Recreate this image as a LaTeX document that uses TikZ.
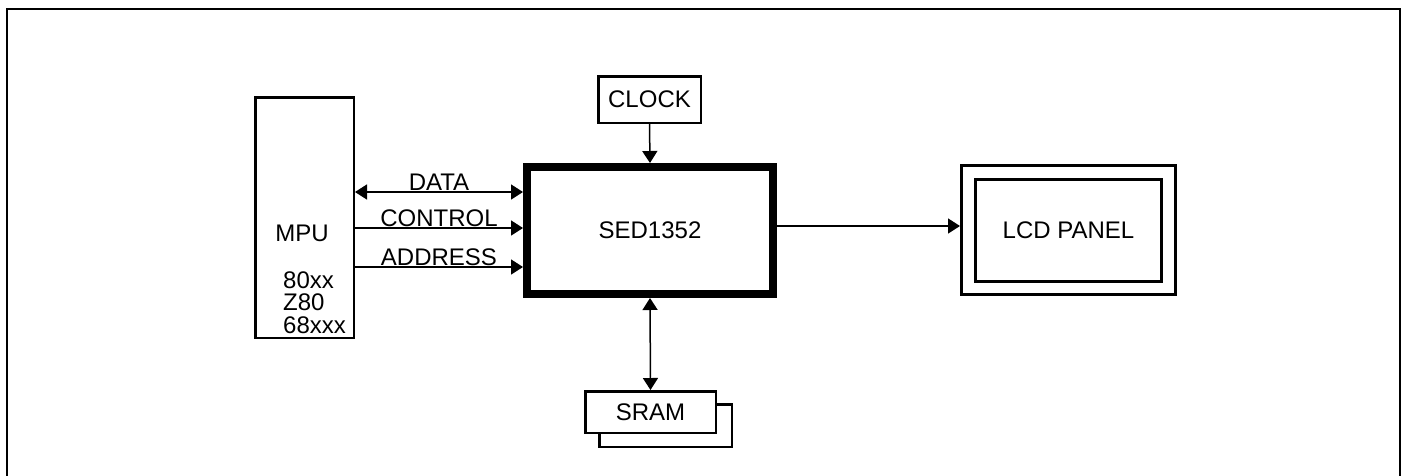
\documentclass[tikz,border=0pt]{standalone}
\usepackage{fontspec}
\setmainfont{Liberation Sans}
\usetikzlibrary{
  arrows.meta,
  positioning,
}
\tikzset{
  blk/.style={draw, line width=2.5pt, inner sep=0pt},
  conn/.style={line width=1.5pt},
  lbl/.style={above, inner sep=1pt},
  tip/.tip={Triangle[length=12pt, width=15pt]},
}

\begin{document}
\begin{tikzpicture}[x=1pt, y=-1pt, font=\fontsize{24}{22.5}\selectfont]
\useasboundingbox (0,0) rectangle (1406,475);
\draw[line width=2pt] (7,9) rectangle (1400,480);

% blocks
\node[blk, minimum width=98.5pt, minimum height=240.5pt] (mpu) at (304.5,217.5) {};
\node[inner sep=0pt] (mpulbl) at (302,233) {MPU};
\node[inner sep=0pt, anchor=west, align=left] (cpus) at (283,302.5) {80xx\\Z80\\68xxx};
\node[draw, line width=8pt, minimum width=246pt, minimum height=127pt] (sed) at (650,230.5) {SED1352};
\node[blk, minimum width=102.5pt, minimum height=46.5pt] (clock) at (649.5,99.5) {CLOCK};
\node[blk, minimum width=132.5pt, minimum height=42.5pt] (sramback) at (665.5,425.5) {};
\node[blk, fill=white, minimum width=130.5pt, minimum height=41.5pt] (sram) at (650.5,412) {SRAM};
\node[draw, line width=3pt, minimum width=214pt, minimum height=129pt] (lcd) at (1068.5,230) {};
\node[draw, line width=3pt, minimum width=186pt, minimum height=102pt] (panel) at (1068.5,230.5) {LCD PANEL};

% buses
\draw[conn, tip-tip] ([yshift=38.5pt]mpu.east |- sed.west) -- node[lbl] (datalbl) {DATA} ([yshift=38.5pt]sed.west);
\draw[conn, -tip] ([yshift=2.5pt]mpu.east |- sed.west) -- node[lbl] (ctrllbl) {CONTROL} ([yshift=2.5pt]sed.west);
\draw[conn, -tip] ([yshift=-36.5pt]mpu.east |- sed.west) -- node[lbl] (addrlbl) {ADDRESS} ([yshift=-36.5pt]sed.west);
\draw[conn, -tip] (clock.south) -- (sed.north);
\draw[conn, tip-tip] (sed.south) -- (sram.north);
\draw[conn, -tip] ([yshift=4.5pt]sed.east) -- ([yshift=4.5pt]sed.east -| lcd.west);
\end{tikzpicture}
\end{document}
